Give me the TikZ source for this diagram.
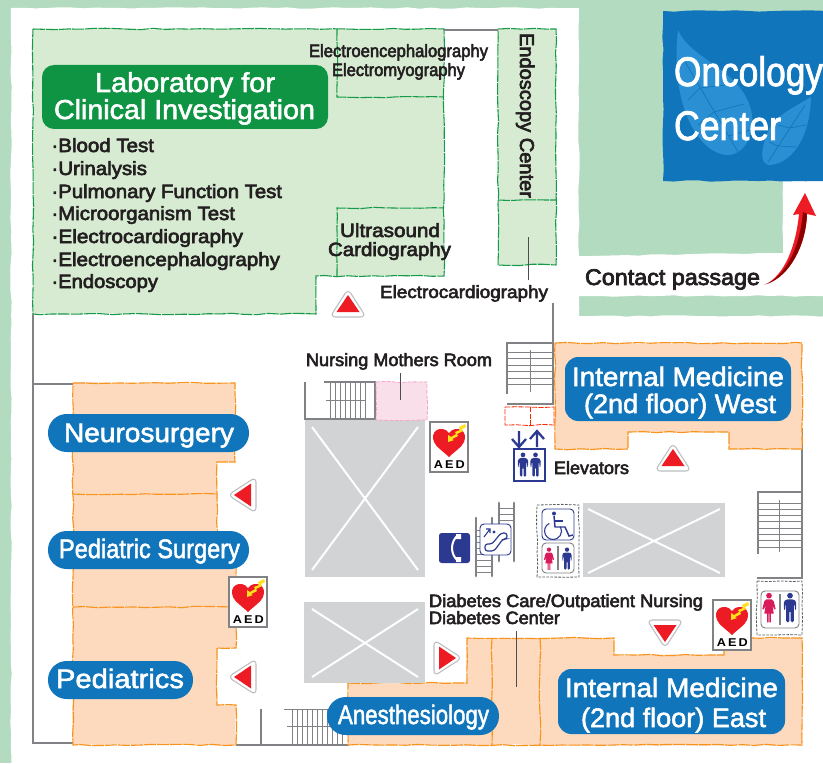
\documentclass[tikz,border=0pt]{standalone}
\usepackage{fontspec}
\usepackage{graphicx}
\usetikzlibrary{decorations.pathmorphing}
\setmainfont{Liberation Sans}
\newfontfamily\medf[FakeBold=3.2]{Liberation Sans}
\newfontfamily\whf[FakeBold=2.0]{Liberation Sans}
\definecolor{bggreen}{HTML}{B3DBBF}
\definecolor{labfill}{HTML}{D7EBD2}
\definecolor{labedge}{HTML}{149A48}
\definecolor{labpill}{HTML}{0F9444}
\definecolor{orfill}{HTML}{FDD9BE}
\definecolor{oredge}{HTML}{F7941D}
\definecolor{bluepill}{HTML}{1175BC}
\definecolor{leafc}{HTML}{2B8FD3}
\definecolor{wallc}{HTML}{808285}
\definecolor{voidc}{HTML}{D1D3D4}
\definecolor{navy}{HTML}{2B3990}
\definecolor{pinkp}{HTML}{D91B5C}
\definecolor{pinkfill}{HTML}{F9DFEA}
\definecolor{pinkedge}{HTML}{F4A6C8}
\definecolor{inkc}{HTML}{231F20}
\definecolor{redc}{HTML}{ED1C24}
\definecolor{yellowc}{HTML}{FFE01B}
\newlength\mylen
\newcommand\Tm[3]{\setlength\mylen{#1pt}\mylen=.75\mylen\resizebox{\mylen}{\height}{\fontsize{#2}{#2}\medf\selectfont #3}}
\newcommand\Tw[3]{\setlength\mylen{#1pt}\mylen=.75\mylen\resizebox{\mylen}{\height}{\fontsize{#2}{#2}\whf\selectfont #3}}
\tikzset{
  rough/.style={decorate,decoration={random steps,segment length=9pt,amplitude=.55pt}},
  labroom/.style={fill=labfill},
  labline/.style={draw=labedge,line width=.8pt,dash pattern=on 9pt off .8pt,rough},
  orroom/.style={fill=orfill},
  orline/.style={draw=oredge,line width=.85pt,dash pattern=on 9pt off .8pt,rough},
  wall/.style={draw=wallc,line width=2pt},
  rung/.style={draw=wallc,line width=.7pt},
  rail/.style={draw=wallc,line width=2.2pt,line cap=round},
  leader/.style={draw=inkc!80,line width=.7pt},
  pill/.style={fill=bluepill},
  cross/.style={draw=white,line width=1.5pt},
  txt/.style={anchor=base west,inner sep=0pt,outer sep=0pt,text=inkc},
  wtxt/.style={anchor=base west,inner sep=0pt,outer sep=0pt,text=white},
  iconbox/.style={draw=navy,fill=white,line width=.7pt,rounded corners=3pt},
  greybox/.style={draw=wallc,fill=white,line width=.7pt,rounded corners=3pt},
  marrow/.pic={
    \draw[fill=white,draw=voidc!90!black,line width=.8pt,rounded corners=4pt] (0,-15)--(18,13)--(-18,13)--cycle;
    \fill[redc] (0,-9)--(11.5,8)--(-11.5,8)--cycle;
  },
  aedicon/.pic={
    \draw[fill=white,draw=wallc,line width=1pt] (0,0) rectangle (38,50);
    \fill[redc] (19,11) .. controls (16,6.5) and (10,6) .. (7,8) .. controls (3,10) and (2,15) .. (4,20) .. controls (6,25) and (14,30) .. (19,35) .. controls (24,30) and (32,25) .. (34,20) .. controls (36,15) and (35,10) .. (31,8) .. controls (28,6) and (22,6.5) .. (19,11) -- cycle;
    \fill[yellowc] (35,2)--(29,5)--(30,8)--(25,10)--(26,12)--(21,15)--(18,13)--(18,20)--(24,18)--(22,17)--(28,14)--(27,12)--(33,9)--(32,7)--(36,5)--cycle;
    \node[anchor=base west,inner sep=0pt,text=black] (-t) at (3.5,46) {\setlength\mylen{31pt}\mylen=.75\mylen\resizebox{\mylen}{\height}{\fontsize{8.5}{8.5}\bfseries A\,E\,D}};
  },
  manp/.pic={
    \fill[navy] (0,-13) circle (3);
    \fill[navy,rounded corners=1pt] (-4,-9)--(4,-9)--(6.5,-7)--(6.5,2)--(5,2)--(5,-4)--(4,-4)--(4,15)--(.7,15)--(.7,3)--(-.7,3)--(-.7,15)--(-4,15)--(-4,-4)--(-5,-4)--(-5,2)--(-6.5,2)--(-6.5,-7)--cycle;
  },
  womanp/.pic={
    \fill[pinkp] (0,-13) circle (3);
    \fill[pinkp] (-3,-9)--(3,-9)--(5,-7)--(7,1)--(5.5,1.5)--(3.5,-3)--(5,6)--(2,6)--(2,15)--(.5,15)--(.5,6)--(-.5,6)--(-.5,15)--(-2,15)--(-2,6)--(-5,6)--(-3.5,-3)--(-5.5,1.5)--(-7,1)--(-5,-7)--cycle;
  },
}
\begin{document}
\begin{tikzpicture}[x=.75pt,y=-.75pt]
\useasboundingbox (0,0) rectangle (823,763);
\clip (0,0) rectangle (823,763);
\pgfmathsetseed{7}
% ground
\fill[bggreen] (0,0) rectangle (823,763);
\fill[white,rough] (11,8)--(579,8)--(579,256)--(783,253)--(783,180)--(830,180)--(830,296)--(579,296)--(579,316)--(830,316)--(830,770)--(11,770)--cycle;
% oncology
\fill[bluepill,rough] (663,11)--(830,11)--(830,181)--(663,181)--cycle;
\fill[leafc] (678,30) .. controls (690,60) and (745,70) .. (752,115) .. controls (755,140) and (740,157) .. (725,155) .. controls (695,150) and (670,100) .. (678,30) -- cycle;
\fill[leafc] (811,97) .. controls (780,115) and (770,120) .. (765,140) .. controls (760,155) and (762,163) .. (768,165) .. controls (790,165) and (810,140) .. (811,97) -- cycle;
\draw[bluepill,line width=.5pt] (684,60)--(738,152) (700,88)--(725,85) (700,88)--(688,100) (714,112)--(744,104) (714,112)--(698,125) (728,136)--(750,130) (805,105)--(768,162) (790,128)--(806,125) (790,128)--(778,125) (778,146)--(796,147) (778,146)--(769,142);
\node[wtxt] (onc1) at (674,86) {\Tw{149}{31}{Oncology}};
\node[wtxt] (onc2) at (674,140) {\Tw{107}{31}{Center}};
% laboratory block
\fill[labroom,rough] (33,29)--(444,29)--(444,276)--(316,276)--(316,314)--(33,314)--cycle;
\draw[labline] (33,29)--(444,29)--(444,276)--(316,276)--(316,314)--(33,314)--cycle;
\draw[labline] (337,29)--(337,97)--(444,97);
\draw[labline] (337,276)--(337,208)--(444,208);
\fill[labroom] (498,29) rectangle (556,265);
\draw[labline] (498,29)--(556,29)--(556,265)--(498,265)--cycle;
\draw[labline] (498,200)--(556,200);
% walls
\draw[wall] (444,30)--(498,30);
\draw[wall] (33,314)--(33,743)--(73,743);
\draw[wall] (33,384)--(73,384);
\draw[wall] (553,303)--(553,404)--(507,404);
\draw[wall] (802,428)--(802,578)--(757,578);
\draw[wall] (236,745)--(349,745);
\draw[wall] (261,709)--(261,745);
% rooms left
\fill[orroom,rough] (73,383)--(235,383)--(235,462)--(217,462)--(217,555)--(236,555)--(236,648)--(217,648)--(217,705)--(236,705)--(236,745)--(73,745)--cycle;
\draw[orline] (73,383)--(235,383)--(235,462)--(217,462)--(217,555)--(236,555)--(236,648)--(217,648)--(217,705)--(236,705)--(236,745)--(73,745)--cycle;
\draw[orline] (73,494)--(217,494);
\draw[orline] (73,607)--(232,607);
% room west
\fill[orroom,rough] (555,343)--(802,343)--(802,449)--(729,449)--(729,432)--(628,432)--(628,449)--(555,449)--cycle;
\draw[orline] (555,343)--(802,343)--(802,449)--(729,449)--(729,432)--(628,432)--(628,449)--(555,449)--cycle;
% rooms bottom
\fill[orroom,rough] (348,683)--(467,683)--(467,638)--(614,638)--(614,655)--(724,655)--(724,638)--(802,638)--(802,745)--(348,745)--cycle;
\draw[orline] (348,683)--(467,683)--(467,638)--(614,638)--(614,655)--(724,655)--(724,638)--(802,638)--(802,745)--(348,745)--cycle;
\draw[orline] (492,638)--(492,745);
\draw[orline] (540,638)--(540,745);
% voids
\fill[voidc] (305,420) rectangle (425,577);
\draw[cross] (312,427)--(418,570) (418,427)--(312,570);
\fill[voidc] (304,602) rectangle (425,683);
\draw[cross] (312,609)--(418,677) (418,609)--(312,677);
\fill[voidc] (583,503) rectangle (725,577);
\draw[cross] (588,509)--(720,573) (720,509)--(588,573);
% stairs top-left
\draw[wall] (305,382)--(305,419)--(375,419)--(375,382)--(324,382);
\foreach \x in {330,335,...,365} \draw[rung] (\x,383)--(\x,418);
\draw[rung] (326,400)--(365,400);
% pink room
\draw[fill=pinkfill,draw=pinkedge,line width=.6pt,dash pattern=on 3pt off 1pt,rough] (376,382)--(427,382)--(427,420)--(376,420)--cycle;
% stairs bottom
\foreach \x in {292,297,...,342} \draw[rung] (\x,710)--(\x,744);
\draw[rung] (284,709)--(330,709);
\draw[rung] (287,726)--(340,726);
% stairs top-right
\draw[wall] (507,394)--(507,343)--(553,343);
\foreach \y in {352,358.5,...,388} \draw[rung] (508,\y)--(553,\y);
\draw[rung] (530,350)--(530,392);
% stairs right
\draw[wall] (758,554)--(758,492)--(802,492);
\foreach \y in {503,509.3,...,548} \draw[rung] (758,\y)--(802,\y);
\draw[rung] (779,500)--(779,552);
% red box
\draw[draw=red!70!orange,line width=.6pt,dash pattern=on 4pt off 1pt,rough] (505,407)--(554,407)--(554,425)--(505,425)--cycle;
\draw[draw=red!70!orange,line width=.6pt,dash pattern=on 4pt off 1pt] (530,407)--(530,425);
% elevator icon
\draw[navy,line width=1.6pt] (514,449) rectangle (545,481);
\pic[scale=.78] at (523,465) {manp};
\pic[scale=.78] at (535.5,465) {manp};
\draw[navy,line width=1.7pt] (519,431)--(519,446) (512,439)--(519,447)--(526,439);
\draw[navy,line width=1.7pt] (537,447)--(537,432) (530,439)--(537,431)--(544,439);
% escalator
\draw[rail] (476,518)--(476,576) (492,518)--(492,576);
\foreach \y in {530,536,...,575} \draw[rung] (476,\y)--(492,\y);
\draw[rail] (499,503)--(499,561) (514,503)--(514,561);
\foreach \y in {508,514,...,525} \draw[rung] (499,\y)--(514,\y);
\draw[iconbox] (480,524) rectangle (511,555);
\draw[navy,line width=.9pt,rounded corners=2pt] (485,544)--(492,544)--(501,533)--(507,533)--(507,539)--(503,539)--(494,551)--(485,551)--cycle;
\fill[navy] (494,532) circle (1.7);
\draw[navy,line width=.8pt] (484,537)--(490,529) (486,529)--(490,529)--(490,533);
% phone
\fill[navy,rounded corners=2pt] (439,533) rectangle (470,563);
\draw[white,line width=1.5pt] (458,535) .. controls (450,542) and (450,554) .. (458,561);
\fill[white] (456,534) rectangle (461,539) (456,557) rectangle (461,562);
% wheelchair / toilet
\draw[wallc!70!black,line width=.6pt,dash pattern=on 2pt off 1pt,rough] (537,505)--(579,505)--(579,577)--(537,577)--cycle;
\draw[iconbox] (542,509) rectangle (574,540);
\fill[navy] (554,513.5) circle (2);
\draw[navy,line width=1.1pt] (554,516)--(555,527)--(565,527)--(569,536)--(573,535);
\draw[navy,line width=.8pt] (555,521)--(563,521);
\draw[navy,line width=.8pt] (549.2,523.4) arc[start angle=243,end angle=-30,radius=8.5];
\draw[greybox] (542,543) rectangle (574,573);
\draw[wallc,line width=1pt] (558,546)--(558,570);
\pic[scale=.72] at (549,559) {womanp};
\pic[scale=.72] at (567,559) {manp};
% right toilet
\draw[wallc!70!black,line width=.6pt,dash pattern=on 2pt off 1pt,rough] (757,581)--(802,581)--(802,635)--(757,635)--cycle;
\draw[greybox] (761,591) rectangle (799,628);
\draw[wallc,line width=1.5pt] (780,594)--(780,625);
\pic[scale=.95] at (769,608) {womanp};
\pic[scale=.95] at (790,608) {manp};
% aed
\pic (aedA) at (430,422) {aedicon};
\pic (aedB) at (229,577) {aedicon};
\pic (aedC) at (713,600) {aedicon};
% direction marks
\pic at (348,304) {marrow};
\pic[rotate=90] at (243,495) {marrow};
\pic[rotate=90] at (243,677) {marrow};
\pic[rotate=-90] at (447,658) {marrow};
\pic at (673,458) {marrow};
\pic[rotate=180] at (665,633) {marrow};
% leaders
\coordinate (la) at (400,373); \coordinate (lb) at (400,400);
\draw[leader] (la)--(lb);
\coordinate (lc) at (528,237); \coordinate (ld) at (528,280);
\draw[leader] (lc)--(ld);
\coordinate (le) at (516,631); \coordinate (lf) at (516,687);
\draw[leader] (le)--(lf);
% pills
\fill[labpill,rounded corners=9pt] (42,65) rectangle (328,129);
\fill[pill,rounded corners=14pt] (48,414) rectangle (249,452);
\fill[pill,rounded corners=14pt] (48,531) rectangle (249,569);
\fill[pill,rounded corners=14pt] (48,661) rectangle (193,699);
\fill[pill,rounded corners=14pt] (327,697) rectangle (499,735);
\fill[pill,rounded corners=10pt] (565,357) rectangle (791,421);
\fill[pill,rounded corners=10pt] (558,669) rectangle (785,734);
% pill texts
\node[wtxt] (t1) at (95,92) {\Tw{180}{20.5}{Laboratory for}};
\node[wtxt] (t2) at (54,119) {\Tw{261}{20.5}{Clinical Investigation}};
\node[wtxt] (t3) at (64,442) {\Tw{170}{20}{Neurosurgery}};
\node[wtxt] (t4) at (59,558) {\Tw{181}{20}{Pediatric Surgery}};
\node[wtxt] (t5) at (56,688) {\Tw{128}{20}{Pediatrics}};
\node[wtxt] (t6) at (338,724) {\Tw{151}{20}{Anesthesiology}};
\node[wtxt] (t7) at (572,386) {\Tw{212}{20}{Internal Medicine}};
\node[wtxt] (t8) at (584,413) {\Tw{192}{20}{(2nd floor) West}};
\node[wtxt] (t9) at (565,697) {\Tw{213}{20}{Internal Medicine}};
\node[wtxt] (t10) at (581,727) {\Tw{185}{20}{(2nd floor) East}};
% lab list
\node[txt] (b1) at (51.5,152) {\Tm{102.5}{14.4}{·Blood Test}};
\node[txt] (b2) at (51.5,175) {\Tm{95.5}{14.4}{·Urinalysis}};
\node[txt] (b3) at (51.5,198) {\Tm{230.5}{14.4}{·Pulmonary Function Test}};
\node[txt] (b4) at (51.5,220) {\Tm{183.5}{14.4}{·Microorganism Test}};
\node[txt] (b5) at (51.5,243) {\Tm{191.5}{14.4}{·Electrocardiography}};
\node[txt] (b6) at (51.5,266) {\Tm{228.5}{14.4}{·Electroencephalography}};
\node[txt] (b7) at (51.5,288) {\Tm{106.5}{14.4}{·Endoscopy}};
% labels
\node[txt] (l1) at (309,57) {\Tm{179}{13.4}{Electroencephalography}};
\node[txt] (l2) at (332,76) {\Tm{133}{13.4}{Electromyography}};
\node[txt,rotate=-90] (l3) at (520,33) {\Tm{165}{15}{Endoscopy Center}};
\node[txt] (l4) at (340,237) {\Tm{100}{14.4}{Ultrasound}};
\node[txt] (l5) at (328,256) {\Tm{123}{14.4}{Cardiography}};
\node[txt] (l6) at (380,298) {\Tm{168}{13.2}{Electrocardiography}};
\node[txt] (l7) at (585,285) {\Tm{175}{17}{Contact passage}};
\node[txt] (l8) at (306,366) {\Tm{186}{13.4}{Nursing Mothers Room}};
\node[txt] (l9) at (554,474) {\Tm{75}{13.4}{Elevators}};
\node[txt] (l10) at (429,607) {\Tm{274}{13.4}{Diabetes Care/Outpatient Nursing}};
\node[txt] (l11) at (429,624) {\Tm{131}{13.4}{Diabetes Center}};
% contact arrow
\fill[redc] (764,285) .. controls (785,276) and (796,245) .. (799,214) -- (793,215) -- (805,193) -- (816,216) -- (807,214) .. controls (806,245) and (790,276) .. (764,285) -- cycle;
\fill[red!55!black] (767,284) .. controls (788,273) and (800,245) .. (803,212) -- (807,214) .. controls (806,245) and (790,276) .. (767,284) -- cycle;
\end{tikzpicture}
\end{document}
